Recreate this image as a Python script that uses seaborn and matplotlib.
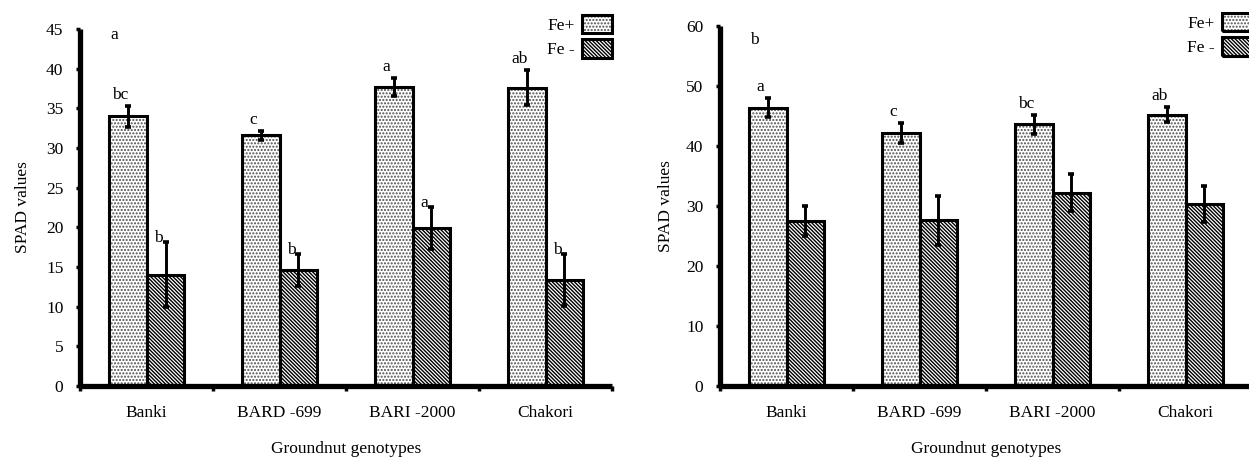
import pandas as pd
import seaborn as sns
import matplotlib.pyplot as plt
from matplotlib.patches import Rectangle, Patch

genotypes = ["Banki", "BARD -699", "BARI -2000", "Chakori"]
treatments = ["Fe+", "Fe -"]

# Panel 1: SPAD values
spad1_fe_plus = [34.0, 31.6, 37.7, 37.6]
spad1_fe_plus_sd = [1.3, 0.6, 1.1, 2.2]
spad1_fe_minus = [14.0, 14.6, 19.9, 13.4]
spad1_fe_minus_sd = [4.1, 2.0, 2.6, 3.3]
letters1_fe_plus = ["bc", "c", "a", "ab"]
letters1_fe_minus = ["b", "b", "a", "b"]
letter1_overall = "a"

# Panel 2: SPAD values
spad2_fe_plus = [46.4, 42.2, 43.6, 45.2]
spad2_fe_plus_sd = [1.6, 1.7, 1.6, 1.25]
spad2_fe_minus = [27.5, 27.6, 32.2, 30.3]
spad2_fe_minus_sd = [2.5, 4.1, 3.1, 3.0]
letters2_fe_plus = ["a", "c", "bc", "ab"]
letters2_fe_minus = ["", "", "", ""]
letter2_overall = "b"

sns.set_theme(style="ticks")
plt.rcParams["font.family"] = ["Liberation Serif", "DejaVu Serif"]
plt.rcParams["hatch.linewidth"] = 1.0
for key in ["text.color", "axes.labelcolor", "xtick.color", "ytick.color", "axes.edgecolor"]:
    plt.rcParams[key] = "black"

FS = 12.5
EDGE_LW = 2.2
HATCHES = [(".....", "0.3"), ("\\" * 9, "black")]


def draw_panel(ax, plus, plus_sd, minus, minus_sd, plus_letters, minus_letters,
               overall_letter, overall_xy, ymax, ystep, legend_top, ylabelpad):
    df = pd.DataFrame({
        "Genotype": genotypes * 2,
        "Treatment": [treatments[0]] * len(genotypes) + [treatments[1]] * len(genotypes),
        "SPAD": plus + minus,
    })
    sns.barplot(data=df, x="Genotype", y="SPAD", hue="Treatment", order=genotypes,
                hue_order=treatments, palette=["white", "white"], saturation=1,
                width=0.57, errorbar=None, legend=False, ax=ax)

    for container, (hatch, hcol), sds, letters, is_plus in zip(
            ax.containers, HATCHES, [plus_sd, minus_sd], [plus_letters, minus_letters], [True, False]):
        xs, tops = [], []
        for bar in container:
            bar.set_hatch(hatch)
            bar.set_edgecolor(hcol)
            bar.set_linewidth(0)
            ax.add_patch(Rectangle((bar.get_x(), bar.get_y()), bar.get_width(), bar.get_height(),
                                   fill=False, ec="black", lw=EDGE_LW, joinstyle="miter",
                                   zorder=bar.get_zorder() + 0.1))
            xs.append(bar.get_x() + bar.get_width() / 2)
            tops.append(bar.get_height())
        ax.errorbar(xs, tops, yerr=sds, fmt="none", ecolor="black", elinewidth=2.1,
                    capsize=2.5, capthick=2.6, zorder=5)
        for x, t, s, lab in zip(xs, tops, sds, letters):
            if not lab:
                continue
            dy = 7 if is_plus else 0
            ax.annotate(lab, xy=(x, t + s), xytext=(-7, dy), textcoords="offset pixels",
                        ha="center", va="baseline", fontsize=FS, zorder=6)

    ax.text(overall_xy[0], overall_xy[1], overall_letter, ha="center", va="center", fontsize=FS)

    ax.set_xlim(-0.5, len(genotypes) - 0.5)
    ax.set_ylim(0, ymax)
    ax.set_yticks(range(0, ymax + 1, ystep))
    ax.set_xticks([i - 0.5 for i in range(len(genotypes) + 1)])
    ax.set_xticklabels([])
    ax.set_xticks(range(len(genotypes)), minor=True)
    ax.set_xticklabels(genotypes, minor=True, fontsize=FS)
    ax.tick_params(axis="x", which="major", direction="out", length=3.5, width=2.5)
    ax.tick_params(axis="x", which="minor", length=0, pad=14)
    ax.tick_params(axis="y", direction="out", length=3, width=2.5, pad=9, labelsize=FS)

    for side in ["top", "right"]:
        ax.spines[side].set_visible(False)
    for side in ["left", "bottom"]:
        ax.spines[side].set_linewidth(3.8)
        ax.spines[side].set_capstyle("butt")

    ax.set_xlabel("Groundnut genotypes", fontsize=FS, labelpad=14)
    ax.set_ylabel("SPAD values", fontsize=FS, labelpad=ylabelpad)

    handles = []
    for hatch, hcol in HATCHES:
        h_fill = Patch(facecolor="white", edgecolor=hcol, hatch=hatch, linewidth=0)
        h_edge = Patch(facecolor="none", edgecolor="black", linewidth=EDGE_LW, joinstyle="miter")
        handles.append((h_fill, h_edge))
    ax.legend(handles, treatments, loc="upper right", bbox_to_anchor=(1.0, legend_top),
              frameon=False, markerfirst=False, handlelength=1.7, handleheight=1.25,
              handletextpad=0.45, labelspacing=0.3, borderpad=0, borderaxespad=0,
              fontsize=FS)


fig = plt.figure(figsize=(12.49, 4.61), dpi=100)
ax1 = fig.add_axes([0.0641, 0.1627, 0.4259, 0.7744])
ax2 = fig.add_axes([0.5765, 0.1627, 0.4259, 0.7809])

draw_panel(ax1, spad1_fe_plus, spad1_fe_plus_sd, spad1_fe_minus, spad1_fe_minus_sd,
           letters1_fe_plus, letters1_fe_minus, letter1_overall, (-0.245, 44.3),
           45, 5, 1.039, 11)
draw_panel(ax2, spad2_fe_plus, spad2_fe_plus_sd, spad2_fe_minus, spad2_fe_minus_sd,
           letters2_fe_plus, letters2_fe_minus, letter2_overall, (-0.24, 57.7),
           60, 10, 1.036, 9)

fig.savefig("out.png", dpi=100)
